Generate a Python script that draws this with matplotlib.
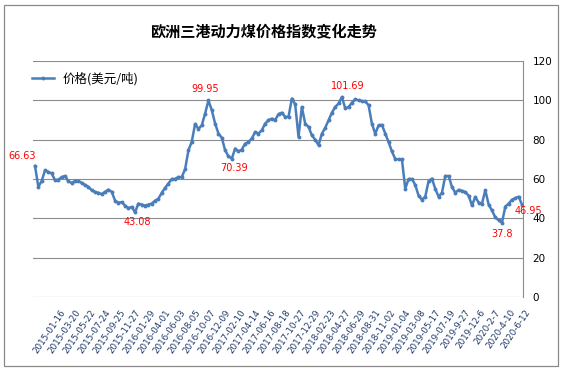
import numpy as np
import matplotlib
matplotlib.use('Agg')
import matplotlib.pyplot as plt
from matplotlib.patches import Rectangle
from matplotlib.transforms import ScaledTranslation

title = "欧洲三港动力煤价格指数变化走势"
series_name = "价格(美元/吨)"

tick_labels = ["2015-01-16", "2015-03-20", "2015-05-22", "2015-07-24", "2015-09-25",
               "2015-11-27", "2016-01-29", "2016-04-01", "2016-06-03", "2016-08-05",
               "2016-10-07", "2016-12-09", "2017-02-10", "2017-04-14", "2017-06-16",
               "2017-08-18", "2017-10-27", "2017-12-29", "2018-02-23", "2018-04-27",
               "2018-06-29", "2018-08-31", "2018-11-02", "2019-01-04", "2019-03-08",
               "2019-05-17", "2019-07-19", "2019-9-27", "2019-12-6", "2020-2-7",
               "2020-4-10", "2020-6-12"]

# price index, sampled every 2 weeks
prices = [66.63, 56, 59, 64.4, 63.6, 62.8, 59.4, 59.7, 61, 61.5,
          58.8, 58, 59, 59, 58, 57, 56, 54.3, 53.4, 53,
          52.3, 53.5, 54.6, 53.5, 49, 48, 48.2, 46.5, 45.2, 45.8,
          43.08, 47.5, 47, 46.5, 47, 47.5, 49, 50, 53, 55.5,
          57.7, 60, 60, 61, 61, 65, 74.6, 79, 88, 85.5,
          87.3, 93.3, 99.95, 95, 88.2, 83.1, 81, 74.6, 71.5, 70.39,
          75.5, 74, 75, 78, 78.8, 80.6, 83.9, 83.1, 84.8, 88.2,
          89.9, 90.7, 90, 93, 93.7, 91.6, 91.6, 100.9, 98, 81.4,
          96.6, 88.2, 86.5, 82.2, 80, 77.2, 83, 86, 89.9, 93.7,
          96.6, 98.4, 101.69, 96, 96.6, 98.8, 100.5, 100, 99.6, 99.5,
          97.5, 88.2, 83, 87.3, 87.5, 83.1, 78.8, 74, 70.2, 70,
          70, 55.1, 60, 60, 57, 51.5, 49.5, 51, 59, 60.2,
          55, 51, 53, 61.5, 61.5, 56, 53, 54.5, 54, 53.4,
          51.5, 46.6, 50.9, 48, 47.5, 54.3, 47, 44, 40.5, 39,
          37.8, 46, 47.5, 49.5, 50.3, 51, 46.95]

weeks_per_point = 2
weeks_per_label = 9

annot_idx = [0, 30, 52, 59, 92, 140, 146]
annot_off = [(-13, 10), (2, -10), (-3, 11), (2, -9), (6, 11), (0, -11), (6, -6)]

line_color = '#4A7EBB'
grid_color = '#8C8C8C'

W, H = 563, 373
fig = plt.figure(figsize=(W / 100, H / 100), dpi=100)
fig.patch.set_facecolor('white')

# outer border
fig.add_artist(Rectangle((4 / W, 1 - 366 / H), 554 / W, 361 / H, transform=fig.transFigure,
                         fill=False, edgecolor='#898989', linewidth=0.9))

ax = fig.add_axes([33 / W, 1 - 297 / H, (523 - 33) / W, (297 - 61) / H])

x = np.arange(len(prices)) * weeks_per_point
px_per_week = (522 - 35) / x[-1]
ax.set_xlim(-2 / px_per_week, x[-1] + 1 / px_per_week)
ax.set_ylim(0, 120)

ax.plot(x, prices, color=line_color, lw=1.8, marker='o', ms=1.8, mec=line_color,
        mfc=line_color, label=series_name, zorder=3)

for i, (dx, dy) in zip(annot_idx, annot_off):
    ax.annotate(f"{prices[i]:g}", (x[i], prices[i]), xytext=(dx, dy),
                textcoords='offset pixels', ha='center', va='center',
                color='#FF0000', fontsize=7, family='DejaVu Sans', zorder=4)

# y axis on right
ax.yaxis.tick_right()
ax.set_yticks(np.arange(0, 121, 20))
ax.tick_params(axis='y', length=0, pad=7, labelsize=7.5, labelcolor='#000000')
ax.grid(axis='y', color=grid_color, lw=0.8)
ax.set_axisbelow(True)
for s in ['left', 'top', 'bottom']:
    ax.spines[s].set_visible(False)
ax.spines['right'].set_color(grid_color)
ax.spines['right'].set_linewidth(0.8)

ticks = np.arange(len(tick_labels)) * weeks_per_label
ax.set_xticks(ticks)
ax.set_xticklabels(tick_labels, rotation=56, ha='right', va='top', fontsize=6.3,
                   color='#1F3A6B')
ax.tick_params(axis='x', length=0, pad=8)
off = ScaledTranslation(32 / 100, 0, fig.dpi_scale_trans)
for lab in ax.get_xticklabels():
    lab.set_transform(lab.get_transform() + off)

fig.text(263 / W, 1 - 31 / H, title, ha='center', va='center', fontsize=10.9,
         fontweight='bold', family=['Noto Sans CJK SC', 'DejaVu Sans'])

leg = ax.legend(loc='center left', bbox_to_anchor=(32 / W, 1 - 79 / H),
                bbox_transform=fig.transFigure, frameon=False, borderpad=0,
                borderaxespad=0, handlelength=1.76, handletextpad=0.72,
                prop={'family': ['Noto Sans CJK SC', 'DejaVu Sans'], 'size': 9})

fig.savefig('out.png', dpi=100, facecolor='white')
